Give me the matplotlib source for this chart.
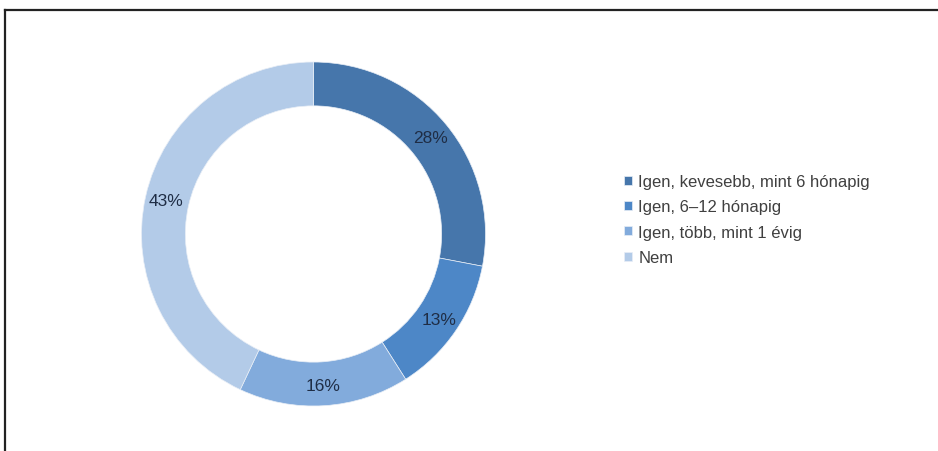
import matplotlib
matplotlib.use('Agg')
import matplotlib.pyplot as plt
from matplotlib.lines import Line2D

labels = ['Igen, kevesebb, mint 6 hónapig', 'Igen, 6–12 hónapig', 'Igen, több, mint 1 évig', 'Nem']
values = [28, 13, 16, 43]
colors = ['#4676ab', '#4d87c7', '#82abdc', '#b3cbe8']

plt.rcParams['font.family'] = ['Liberation Sans', 'DejaVu Sans']

W, H = 938, 452
fig = plt.figure(figsize=(W / 100, H / 100), dpi=100)
fig.patch.set_facecolor('white')

# outer frame (only top and left edges are visible in the crop)
fig.add_artist(Line2D([5 / W, 5 / W], [0, 1 - 11 / H], color='#222222', lw=1.6))
fig.add_artist(Line2D([5 / W, 1], [1 - 11 / H, 1 - 11 / H], color='#222222', lw=1.6))

cx, cy, r = 313.5, 235, 172
ax = fig.add_axes([(cx - r) / W, (H - cy - r) / H, 2 * r / W, 2 * r / H])
wedges, texts, autotexts = ax.pie(
    values, colors=colors, startangle=90, counterclock=False,
    wedgeprops=dict(width=0.255, edgecolor='#e8eef6', linewidth=0.5),
    autopct='%d%%', pctdistance=0.88,
    textprops=dict(fontsize=12.5, color='#1f2d45'))
ax.set_xlim(-1, 1)
ax.set_ylim(-1, 1)
ax.set_aspect('equal')

fig.legend(wedges, labels, loc='upper left', bbox_to_anchor=(624 / W, 1 - 175 / H),
           frameon=False, fontsize=12, handlelength=0.45, handleheight=0.45,
           handletextpad=0.4, labelspacing=0.62, borderaxespad=0, borderpad=0,
           labelcolor='#404040')

fig.savefig('out.png', dpi=100)
